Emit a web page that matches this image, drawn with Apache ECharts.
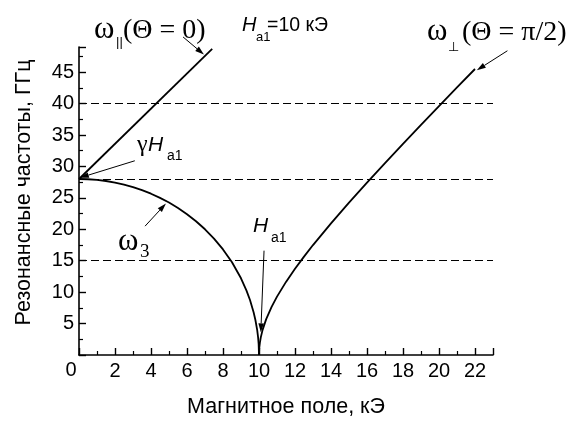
<!DOCTYPE html>
<html>
<head>
<meta charset="utf-8">
<script src="https://cdn.jsdelivr.net/npm/echarts@6/dist/echarts.min.js"></script>
<style>
html,body{margin:0;padding:0;background:#fff;}
#chart{width:570px;height:423px;}
</style>
</head>
<body>
<div id="chart"></div>
<script>
// ---- data ----
const parallelH = [0, 7.4];
const parallelF = [28, 48.7];

const w3H = [0, 0.5, 1, 1.5, 2, 2.5, 3, 3.5, 4, 4.5, 5, 5.5, 6, 6.5, 7, 7.5, 8, 8.5, 9, 9.3, 9.5, 9.7, 9.8, 9.9, 9.95, 9.98, 10];
const w3F = [28, 27.96, 27.86, 27.68, 27.43, 27.11, 26.71, 26.23, 25.66, 25.0, 24.25, 23.38, 22.4, 21.28, 20.0, 18.52, 16.8, 14.75, 12.2, 10.29, 8.74, 6.81, 5.57, 3.95, 2.8, 1.77, 0];

const perpH = [10, 10.01, 10.02, 10.05, 10.1, 10.2, 10.4, 10.7, 11, 11.5, 12, 12.5, 13, 14, 15, 16, 17, 18, 19, 20, 21, 22];
const perpF = [0, 0.89, 1.25, 1.98, 2.81, 4.0, 5.71, 7.66, 9.29, 11.63, 13.72, 15.65, 17.49, 20.95, 24.25, 27.43, 30.54, 33.6, 36.62, 39.6, 42.56, 45.5];

const refLevels = [15, 28, 40];

const xMin = 0, xMax = 23, xStep = 2;
const yMin = 0, yMax = 49, yStep = 5;

const xTitle = 'Магнитное поле, кЭ';
const yTitle = 'Резонансные частоты, ГГц';

// annotation arrows in data coordinates: [from, to]
const arrowsData = [
  [[5.78, 50.6], [6.94, 47.8]],   // ω||
  [[23.8, 48.4], [22.1, 45.3]],   // ω⊥
  [[3.1, 30.9], [0.05, 28.2]],    // γHa1
  [[3.67, 20.5], [4.83, 24.1]],   // ω3
  [[10.28, 16.6], [10.1, 3.6]]    // Ha1
];

const zip = (a, b) => a.map((v, i) => [v, b[i]]);

const chart = echarts.init(document.getElementById('chart'), null, {renderer: 'canvas'});

const SERIF = 'Liberation Serif, DejaVu Serif, serif';
const SANS = 'Liberation Sans, Arial, sans-serif';

const axisCommon = {
  type: 'value',
  splitLine: {show: false},
  axisLine: {show: true, onZero: false, lineStyle: {color: '#000', width: 1.6}},
  axisTick: {show: true, inside: true, length: 7, lineStyle: {color: '#000', width: 1.4}},
  minorTick: {show: true, splitNumber: 2, length: 4, lineStyle: {color: '#000', width: 1.2}},
};

chart.setOption({
  animation: false,
  backgroundColor: '#fff',
  grid: {left: 79, right: 77, top: 47, bottom: 62, containLabel: false},
  xAxis: Object.assign({}, axisCommon, {
    min: xMin, max: xMax, interval: xStep,
    name: xTitle, nameLocation: 'middle', nameGap: 41,
    nameTextStyle: {fontFamily: SANS, fontSize: 21.5, color: '#000'},
    axisLabel: {fontFamily: SANS, fontSize: 20, color: '#000', margin: 6,
      formatter: v => (v === xMin || v === xMax) ? '' : String(v)}
  }),
  yAxis: Object.assign({}, axisCommon, {
    min: yMin, max: yMax, interval: yStep,
    axisLabel: {fontFamily: SANS, fontSize: 20, color: '#000', margin: 5,
      formatter: v => (v === yMin || v % yStep !== 0) ? '' : String(v)}
  }),
  series: [
    {
      type: 'line', data: zip(parallelH, parallelF), symbol: 'none',
      lineStyle: {color: '#000', width: 1.8}, silent: true,
      markLine: {
        silent: true, symbol: 'none', label: {show: false},
        lineStyle: {color: '#000', width: 1.2, type: [8, 4]},
        data: refLevels.map(v => ({yAxis: v}))
      }
    },
    {type: 'line', data: zip(w3H, w3F), symbol: 'none', lineStyle: {color: '#000', width: 1.8}, silent: true},
    {type: 'line', data: zip(perpH, perpF), symbol: 'none', lineStyle: {color: '#000', width: 1.8}, silent: true}
  ]
});

function conv(p) { return chart.convertToPixel({gridIndex: 0}, p); }

function arrow(from, to) {
  const p0 = conv(from), p1 = conv(to);
  const dx = p1[0] - p0[0], dy = p1[1] - p0[1];
  const L = Math.hypot(dx, dy), ux = dx / L, uy = dy / L;
  const hl = 9, hw = 2.8;
  const b = [p1[0] - ux * hl, p1[1] - uy * hl];
  return [
    {type: 'line', silent: true, shape: {x1: p0[0], y1: p0[1], x2: b[0], y2: b[1]}, style: {stroke: '#000', lineWidth: 1}},
    {type: 'polygon', silent: true, shape: {points: [p1, [b[0] - uy * hw, b[1] + ux * hw], [b[0] + uy * hw, b[1] - ux * hw]]}, style: {fill: '#000'}}
  ];
}

function txt(text, x, y, size, family, extra) {
  return {type: 'text', silent: true, x: x, y: y,
    style: Object.assign({text: text, fontSize: size, fontFamily: family, fill: '#000', textAlign: 'left', textVerticalAlign: 'middle'}, extra || {})};
}

let g = [];
arrowsData.forEach(a => { g = g.concat(arrow(a[0], a[1])); });

g.push(
  // y axis title
  {type: 'text', silent: true, x: 24, y: 192.5, rotation: Math.PI / 2,
    style: {text: yTitle, fontSize: 21.5, fontFamily: SANS, fill: '#000', textAlign: 'center', textVerticalAlign: 'middle'}},
  // ω|| (Θ = 0)
  txt('ω', 94, 29.5, 31, SERIF),
  txt('||', 116, 42, 13, SANS),
  txt('(Θ = 0)', 123, 30.5, 28, SERIF),
  // H a1 = 10 кЭ
  txt('H', 242, 25, 20, SANS, {fontStyle: 'italic'}),
  txt('a1', 256, 37.5, 13, SANS),
  txt('=10 кЭ', 267, 25.4, 19.5, SANS),
  // ω⊥ (Θ = π/2)
  txt('ω', 427, 31.5, 31, SERIF),
  txt('⊥', 448, 48, 13, 'DejaVu Sans, sans-serif'),
  txt('(Θ = π/2)', 462, 32.5, 28, SERIF),
  // γ H a1
  txt('γ', 137, 145, 24, SERIF),
  txt('H', 148, 145.5, 21, SANS, {fontStyle: 'italic'}),
  txt('a1', 167, 156.5, 14, SANS),
  // ω3
  txt('ω', 118, 241.5, 31, SERIF),
  txt('3', 140, 252, 19, SERIF),
  // H a1 (bottom)
  txt('H', 253, 225.7, 21, SANS, {fontStyle: 'italic'}),
  txt('a1', 271, 238, 14, SANS),
  // origin zero label
  {type: 'text', silent: true, x: 71, y: 370, style: {text: '0', fontSize: 20, fontFamily: SANS, fill: '#000', textAlign: 'center', textVerticalAlign: 'middle'}}
);

chart.setOption({graphic: g});
</script>
</body>
</html>
